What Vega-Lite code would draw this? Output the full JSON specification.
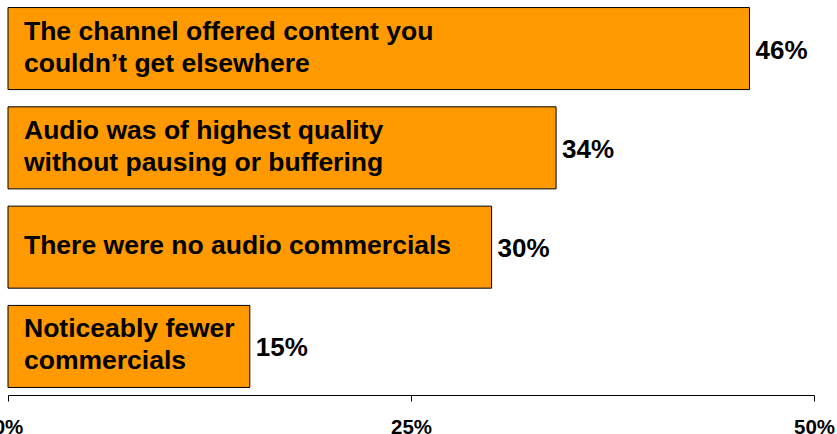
{
  "$schema": "https://vega.github.io/schema/vega-lite/v6.json",
  "autosize": "none",
  "width": 806,
  "height": 395,
  "padding": {"left": 8, "top": 0, "right": 23, "bottom": 39},
  "background": "white",
  "config": {"view": {"stroke": null}, "font": "Liberation Sans"},
  "data": {
    "values": [
      {"reason": "The channel offered content you\ncouldn’t get elsewhere", "share": 46},
      {"reason": "Audio was of highest quality\nwithout pausing or buffering", "share": 34},
      {"reason": "There were no audio commercials", "share": 30},
      {"reason": "Noticeably fewer\ncommercials", "share": 15}
    ]
  },
  "encoding": {
    "y": {
      "field": "reason",
      "type": "nominal",
      "sort": null,
      "axis": null,
      "scale": {"paddingInner": 0.174, "paddingOuter": 0.076}
    }
  },
  "layer": [
    {
      "mark": {"type": "bar", "color": "#FF9900", "stroke": "#000000", "strokeWidth": 1},
      "encoding": {
        "x": {
          "field": "share",
          "type": "quantitative",
          "scale": {"domain": [0, 50], "nice": false},
          "axis": {
            "values": [0, 25, 50],
            "labelExpr": "datum.value + '%'",
            "title": null,
            "grid": false,
            "domainColor": "#000000",
            "domainWidth": 1,
            "tickColor": "#000000",
            "tickSize": 6,
            "labelFlush": false,
            "labelOverlap": false,
            "labelBound": false,
            "labelPadding": 16,
            "labelFont": "Liberation Sans",
            "labelFontWeight": "bold",
            "labelFontSize": 20.5,
            "labelColor": "#000000"
          }
        }
      }
    },
    {
      "transform": [{"filter": "indexof(datum.reason, '\\n') >= 0"}],
      "mark": {
        "type": "text",
        "align": "left",
        "baseline": "middle",
        "dx": 16,
        "dy": -17,
        "font": "Liberation Sans",
        "fontWeight": "bold",
        "fontSize": 26.5,
        "lineHeight": 32,
        "lineBreak": "\n",
        "color": "#000000"
      },
      "encoding": {
        "x": {"datum": 0, "type": "quantitative"},
        "text": {"field": "reason"}
      }
    },
    {
      "transform": [{"filter": "indexof(datum.reason, '\\n') < 0"}],
      "mark": {
        "type": "text",
        "align": "left",
        "baseline": "middle",
        "dx": 16,
        "dy": -1,
        "font": "Liberation Sans",
        "fontWeight": "bold",
        "fontSize": 26.5,
        "color": "#000000"
      },
      "encoding": {
        "x": {"datum": 0, "type": "quantitative"},
        "text": {"field": "reason"}
      }
    },
    {
      "mark": {
        "type": "text",
        "align": "left",
        "baseline": "middle",
        "dx": 6,
        "dy": 2,
        "font": "Liberation Sans",
        "fontWeight": "bold",
        "fontSize": 26,
        "color": "#000000"
      },
      "encoding": {
        "x": {"field": "share", "type": "quantitative"},
        "text": {"field": "share_label"}
      },
      "transform": [{"calculate": "datum.share + '%'", "as": "share_label"}]
    }
  ]
}
